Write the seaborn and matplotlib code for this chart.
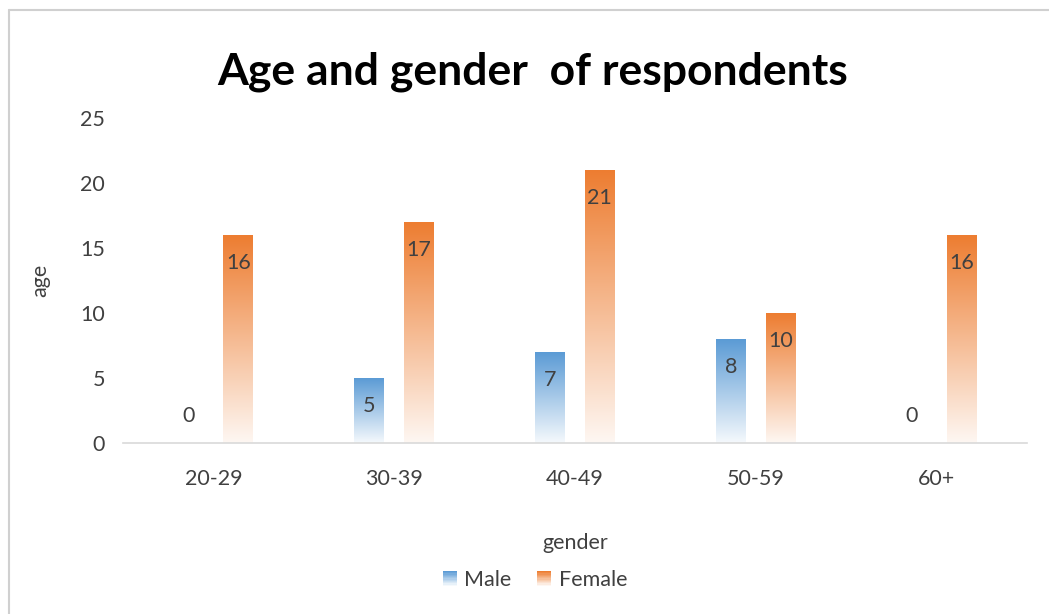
import numpy as np
import pandas as pd
import matplotlib.pyplot as plt
import seaborn as sns
from matplotlib.colors import LinearSegmentedColormap, to_rgb
from matplotlib.legend_handler import HandlerBase
from matplotlib.patches import Rectangle
from matplotlib.lines import Line2D

age_groups = ['20-29', '30-39', '40-49', '50-59', '60+']
male = [0, 5, 7, 8, 0]
female = [16, 17, 21, 10, 16]
series = ['Male', 'Female']
colors = {'Male': '#5B9BD5', 'Female': '#ED7D31'}

df = pd.DataFrame({
    'group': age_groups * 2,
    'count': male + female,
    'gender': ['Male'] * len(age_groups) + ['Female'] * len(age_groups),
})

sns.set_style('white')
plt.rcParams['font.family'] = ['Lato', 'DejaVu Sans']
TXT = '#404040'
FS = 15.5

fig = plt.figure(figsize=(10.49, 6.14), dpi=100)
ax = fig.add_axes([123 / 1049, 1 - 443 / 614, (1027 - 123) / 1049, (443 - 118) / 614])

sns.barplot(data=df, x='group', y='count', hue='gender', hue_order=series,
            palette=colors, width=0.55, gap=0.4, ax=ax, legend=False)


def fade(c):
    r, g, b = to_rgb(c)
    low = (1 - (1 - r) * 0.06, 1 - (1 - g) * 0.06, 1 - (1 - b) * 0.06)
    return LinearSegmentedColormap.from_list('f', [low, (r, g, b)])


grad = np.linspace(0, 1, 256).reshape(-1, 1)
for cont, name in zip(ax.containers, series):
    cmap = fade(colors[name])
    for bar in cont:
        x0, y0 = bar.get_x(), bar.get_y()
        w, h = bar.get_width(), bar.get_height()
        bar.set_facecolor('none')
        bar.set_edgecolor('none')
        if h > 0:
            ax.imshow(grad, cmap=cmap, origin='lower', aspect='auto',
                      extent=(x0, x0 + w, y0, y0 + h), zorder=2)
        dy = -20 if h > 0 else 19.5
        ax.annotate(f'{int(h)}', (x0 + w / 2, h), xytext=(0, dy),
                    textcoords='offset points', ha='center', va='center',
                    fontsize=FS, color=TXT, zorder=3)

ax.set_xlim(-0.5, 4.5)
ax.set_ylim(0, 25)
ax.set_yticks(range(0, 26, 5))
ax.tick_params(axis='both', length=0, labelsize=FS, labelcolor=TXT)
ax.tick_params(axis='x', pad=19)
ax.tick_params(axis='y', pad=13)
for s in ['top', 'right', 'left']:
    ax.spines[s].set_visible(False)
ax.spines['bottom'].set_color('#D9D9D9')
ax.spines['bottom'].set_linewidth(1.2)

ax.set_xlabel('gender', fontsize=FS, color=TXT)
ax.set_ylabel('age', fontsize=FS, color=TXT)
ax.xaxis.set_label_coords((575 - 123) / 904, (443 - 543) / 325)
ax.yaxis.set_label_coords((40 - 123) / 904, (443 - 280) / 325)
ax.xaxis.label.set_va('center')
ax.yaxis.label.set_va('center')
fig.text(533 / 1049, 1 - 72 / 614, 'Age and gender  of respondents',
         ha='center', va='center', fontsize=32, fontweight='bold', color='black')


class GradHandler(HandlerBase):
    def create_artists(self, legend, orig, xd, yd, width, height, fontsize, trans):
        cmap = fade(orig.get_facecolor())
        n = 12
        out = []
        for i in range(n):
            out.append(Rectangle((xd, yd + height * i / n), width, height / n + 0.3,
                                 facecolor=cmap(i / (n - 1)), edgecolor='none',
                                 transform=trans))
        return out


handles = [Rectangle((0, 0), 1, 1, facecolor=colors[s]) for s in series]
fig.legend(handles, series, loc='center', bbox_to_anchor=(535 / 1049, 1 - 580 / 614),
           ncol=2, frameon=False, fontsize=FS, labelcolor=TXT,
           handler_map={Rectangle: GradHandler()}, handlelength=0.65,
           handleheight=0.7, handletextpad=0.35, columnspacing=1.2)

fig.add_artist(Line2D([9 / 1049, 1], [1 - 10 / 614] * 2, color='#D0D0D0', lw=1.5))
fig.add_artist(Line2D([9 / 1049] * 2, [0, 1 - 10 / 614], color='#D0D0D0', lw=1.5))

fig.savefig('out.png', dpi=100)
